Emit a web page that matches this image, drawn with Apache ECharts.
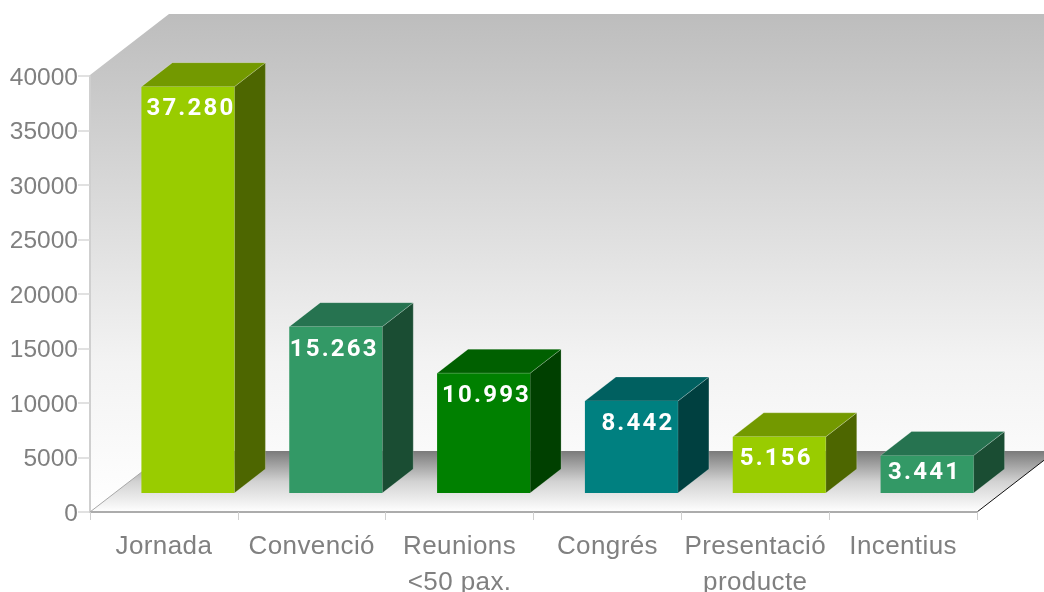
<!DOCTYPE html>
<html><head><meta charset="utf-8">
<style>html,body{margin:0;padding:0;background:#fff}#c{width:1044px;height:592px}</style>
<script src="https://cdn.jsdelivr.net/npm/echarts@6/dist/echarts.min.js"></script>
</head><body><div id="c"></div>
<script>
const categories = ['Jornada','Convenció','Reunions\n<50 pax.','Congrés','Presentació\nproducte','Incentius'];
const values = [37280,15263,10993,8442,5156,3441];
const valueLabels = ['37.280','15.263','10.993','8.442','5.156','3.441'];
const yMax = 40000, yStep = 5000;
const frontColors = ['#99cc00','#339966','#008000','#008080','#99cc00','#339966'];
const topColors   = ['#739900','#267350','#006000','#006060','#739900','#267350'];
const sideColors  = ['#4d6600','#1a4d33','#004000','#004040','#4d6600','#1a4d33'];
const labelNudgeX = [3,-1.5,3,6.5,-3,-2.5];
const labelNudgeY = [2,3.5,2.5,3,2,-2];

// tracking for the label fonts (canvas text has no option for it in the text style)
const origFill = CanvasRenderingContext2D.prototype.fillText;
CanvasRenderingContext2D.prototype.fillText = function(t,x,y,m){
  const f = this.font;
  this.letterSpacing = f.indexOf('Roboto')>=0 ? '2.2px' : (f.indexOf('26px')>=0 ? '0.4px' : '0px');
  origFill.call(this,t,x,y,m);
};

const L=90,R=977,T=76,B=512, WX=79, WY=-61, DX=24, DY=-19, BW=93, BDX=31, BDY=-24;
const wallGrad = new echarts.graphic.LinearGradient(0,0,0,1,[{offset:0,color:'#bdbdbd'},{offset:0.35,color:'#d8d8d8'},{offset:0.7,color:'#f3f3f3'},{offset:1,color:'#ffffff'}]);
const floorGrad = new echarts.graphic.LinearGradient(0,0,0,1,[{offset:0,color:'#7a7a7a'},{offset:0.5,color:'#d2d2d2'},{offset:1,color:'#ffffff'}]);

function renderBar(params, api){
  const i = api.value(0), v = api.value(1);
  const top = api.coord([i,v]), base = api.coord([i,0]);
  const x0 = top[0]+DX-BW/2, x1 = x0+BW, yT = top[1]+DY, yB = base[1]+DY;
  const edge = 'rgba(255,255,255,0.22)';
  return {type:'group',children:[
    {type:'polygon',shape:{points:[[x1,yT],[x1+BDX,yT+BDY],[x1+BDX,yB+BDY],[x1,yB]]},style:{fill:sideColors[i],stroke:edge,lineWidth:1}},
    {type:'polygon',shape:{points:[[x0,yT],[x0+BDX,yT+BDY],[x1+BDX,yT+BDY],[x1,yT]]},style:{fill:topColors[i],stroke:edge,lineWidth:1}},
    {type:'rect',shape:{x:x0,y:yT,width:BW,height:yB-yT},style:{fill:frontColors[i]}},
    {type:'text',style:{text:valueLabels[i],x:top[0]+DX+labelNudgeX[i],y:yT+20+labelNudgeY[i],fill:'#fff',font:'bold 24px Roboto',textAlign:'center',textVerticalAlign:'middle'},z2:5}
  ]};
}

const chart = echarts.init(document.getElementById('c'),null,{renderer:'canvas'});
chart.setOption({
  animation:false,
  backgroundColor:'#ffffff',
  grid:{left:L,right:1044-R,top:T,bottom:592-B,outerBoundsMode:'none'},
  graphic:[
    {type:'polygon',z:-10,silent:true,shape:{points:[[L,B],[L,T-1],[L+WX,T-1+WY],[1044,T-1+WY],[1044,B+WY],[L+WX,B+WY]]},style:{fill:wallGrad}},
    {type:'polygon',z:-9,silent:true,shape:{points:[[L,B],[L+WX,B+WY],[R+WX,B+WY],[R,B]]},style:{fill:floorGrad}},
    {type:'line',z:-8,silent:true,shape:{x1:L,y1:B,x2:L+WX,y2:B+WY},style:{stroke:'#a8a8a8',lineWidth:1}},
    {type:'line',z:-8,silent:true,shape:{x1:R,y1:B,x2:R+WX,y2:B+WY},style:{stroke:'#111',lineWidth:1}}
  ],
  xAxis:{type:'category',data:categories,boundaryGap:true,
    axisLine:{show:true,lineStyle:{color:'#acacac',width:2}},
    axisTick:{show:true,alignWithLabel:false,length:8,lineStyle:{color:'#cfcfcf',width:1}},
    axisLabel:{color:'#808080',fontSize:26,fontFamily:'Liberation Sans',lineHeight:36,margin:17,interval:0,hideOverlap:false},
    splitLine:{show:false}},
  yAxis:{type:'value',min:0,max:yMax,interval:yStep,
    axisLine:{show:true,lineStyle:{color:'#cfcfcf',width:2}},
    axisTick:{show:true,length:12,lineStyle:{color:'#d8d8d8',width:1.5}},
    axisLabel:{margin:12,formatter:v=>'{n|'+v+'}',
      rich:{n:{color:'#808080',fontSize:24.5,fontFamily:'Liberation Sans',padding:[4,0,0,0]}}},
    splitLine:{show:false}},
  series:[{type:'custom',clip:false,renderItem:renderBar,encode:{x:0,y:1},
    data:values.map((v,i)=>[i,v])}]
});
</script></body></html>
